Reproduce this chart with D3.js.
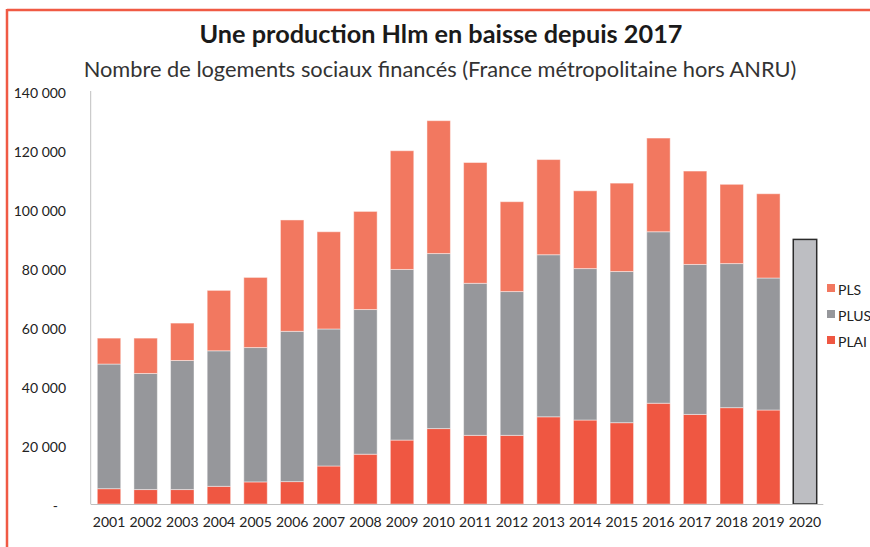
<!DOCTYPE html>
<html><head><meta charset="utf-8">
<script src="https://cdn.jsdelivr.net/npm/d3@7/dist/d3.min.js"></script>
<style>html,body{margin:0;padding:0;background:#fff;}svg{display:block;}</style>
</head><body>
<svg id="c" width="870" height="547"></svg>
<script>
const years = ["2001","2002","2003","2004","2005","2006","2007","2008","2009","2010","2011","2012","2013","2014","2015","2016","2017","2018","2019","2020"];
const plai = [5200,4900,4900,6000,7500,7600,12900,16900,21700,25600,23300,23300,29600,28500,27600,34200,30400,32700,31900,null];
const plus = [42300,39400,43800,46000,45600,51000,46500,49100,57900,59400,51600,48800,55000,51400,51300,58200,50900,48900,44800,null];
const pls  = [8800,12000,12700,20500,23800,37800,33000,33300,40300,45100,41000,30500,32300,26400,30000,31800,31700,26900,28600,null];
const total2020 = [null,null,null,null,null,null,null,null,null,null,null,null,null,null,null,null,null,null,null,89800];
const yTicks = [0,20000,40000,60000,80000,100000,120000,140000];
const tickLabels = ["-","20 000","40 000","60 000","80 000","100 000","120 000","140 000"];
const seriesNames = ["PLS","PLUS","PLAI"];
const titleText = "Une production Hlm en baisse depuis 2017";
const subtitleText = "Nombre de logements sociaux financés (France métropolitaine hors ANRU)";

const colors = {PLS:"#f27860", PLUS:"#96979b", PLAI:"#ef5742"};
const svg = d3.select("#c");
const F = "Lato, 'Open Sans', sans-serif";

// frame
svg.append("line").attr("x1",7).attr("x2",870).attr("y1",10).attr("y2",10).attr("stroke","#f05a44").attr("stroke-width",2.5);
svg.append("line").attr("x1",7).attr("x2",7).attr("y1",9).attr("y2",547).attr("stroke","#f05a44").attr("stroke-width",2.5);

function fitText(sel, target){
  const n = sel.node(); let fs = parseFloat(sel.attr("font-size"));
  for(let i=0;i<3;i++){ const w = n.getComputedTextLength(); fs = fs*target/w; sel.attr("font-size",fs); }
}
const t = svg.append("text").attr("x",441).attr("y",43).attr("text-anchor","middle").attr("font-family",F).attr("font-weight","bold").attr("font-size",22).attr("fill","#1a1a1a").text(titleText);
fitText(t,483);
const st = svg.append("text").attr("x",440).attr("y",77).attr("text-anchor","middle").attr("font-family",F).attr("font-size",18).attr("fill","#333").text(subtitleText);
fitText(st,713);

const x = d3.scaleBand().domain(years).range([90.7,823.3]).paddingInner(0.36).paddingOuter(0.18);
const y = d3.scaleLinear().domain([0,140000]).range([504,91.5]);

const rows = years.map((yr,i)=>({year:yr, PLAI:plai[i]||0, PLUS:plus[i]||0, PLS:pls[i]||0}));
const stack = d3.stack().keys(["PLAI","PLUS","PLS"])(rows);

const g = svg.append("g");
stack.forEach(layer=>{
  g.selectAll(null).data(layer.filter(d=>d.data[layer.key]>0)).enter().append("rect")
    .attr("x",d=>x(d.data.year)).attr("width",x.bandwidth())
    .attr("y",d=>y(d[1])).attr("height",d=>y(d[0])-y(d[1]))
    .attr("fill",colors[layer.key]).attr("stroke","rgba(255,255,255,0.45)").attr("stroke-width",1);
});
// 2020 total
g.selectAll(null).data(years.map((yr,i)=>({year:yr,v:total2020[i]})).filter(d=>d.v)).enter().append("rect")
  .attr("x",d=>x(d.year)).attr("width",x.bandwidth())
  .attr("y",d=>y(d.v)).attr("height",d=>y(0)-y(d.v))
  .attr("fill","#bdbec2").attr("stroke","#2b2b2b").attr("stroke-width",1.5);

// axes
svg.append("line").attr("x1",90.7).attr("x2",90.7).attr("y1",91).attr("y2",504).attr("stroke","#bfbfbf").attr("stroke-width",1);
svg.append("line").attr("x1",90.7).attr("x2",823.3).attr("y1",504.5).attr("y2",504.5).attr("stroke","#bfbfbf").attr("stroke-width",1);

const ya = svg.append("g").attr("transform","translate(66,2)")
  .call(d3.axisLeft(y).tickValues(yTicks).tickFormat((d,i)=>tickLabels[i]).tickSize(0).tickPadding(0));
ya.select(".domain").remove();
ya.selectAll("text").attr("font-family",F).attr("font-size",14).attr("fill","#222");
ya.selectAll("text").filter((d)=>d===0).attr("dx",-8);

const xa = svg.append("g").attr("transform","translate(0,504)")
  .call(d3.axisBottom(x).tickSize(0).tickPadding(13));
xa.select(".domain").remove();
xa.selectAll("text").attr("font-family",F).attr("font-size",14).attr("fill","#222");

// legend
const leg = svg.append("g");
seriesNames.forEach((s,i)=>{
  const by = 295 + i*26;
  leg.append("rect").attr("x",827).attr("y",by-11).attr("width",8).attr("height",8).attr("fill",colors[s]);
  leg.append("text").attr("x",838).attr("y",by).attr("font-family",F).attr("font-size",14).attr("fill","#222").text(s);
});
</script>
</body></html>
